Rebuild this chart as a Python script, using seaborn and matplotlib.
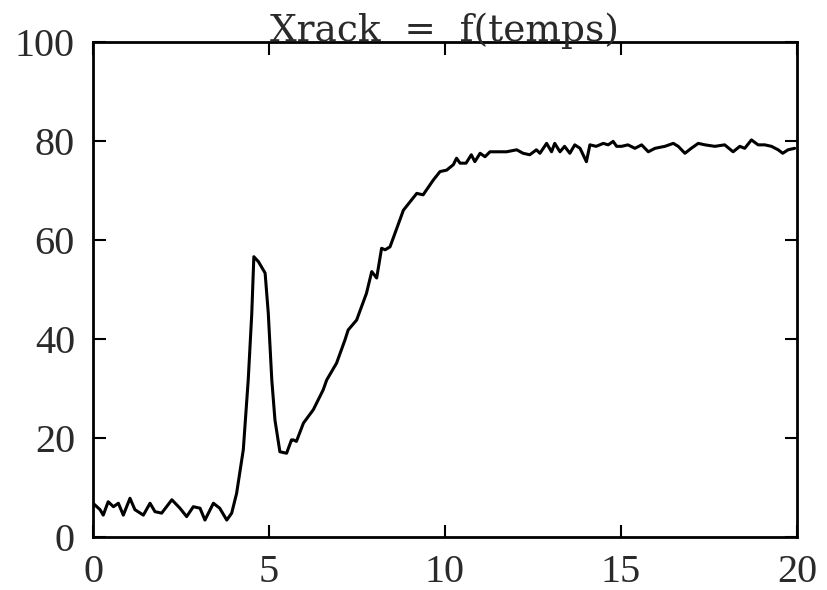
import matplotlib
matplotlib.use("Agg")
import pandas as pd
import seaborn as sns
import matplotlib.pyplot as plt

# values
temps = [0.0, 0.2, 0.29, 0.43, 0.58, 0.72, 0.86, 1.05, 1.19, 1.43, 1.62, 1.76, 1.95,
         2.24, 2.47, 2.66, 2.85, 3.04, 3.18, 3.42, 3.6, 3.8, 3.94, 4.08, 4.27, 4.41,
         4.51, 4.57, 4.7, 4.89, 4.98, 5.08, 5.17, 5.31, 5.5, 5.64, 5.69, 5.78, 5.98,
         6.26, 6.54, 6.64, 6.92, 7.16, 7.25, 7.49, 7.77, 7.92, 8.06, 8.2, 8.3, 8.44,
         8.82, 9.2, 9.38, 9.67, 9.86, 10.05, 10.24, 10.33, 10.43, 10.6, 10.75, 10.85,
         11.0, 11.14, 11.28, 11.47, 11.75, 12.04, 12.22, 12.41, 12.6, 12.7, 12.89,
         13.03, 13.12, 13.27, 13.4, 13.55, 13.69, 13.84, 14.02, 14.12, 14.3, 14.5,
         14.64, 14.78, 14.88, 15.02, 15.2, 15.4, 15.59, 15.78, 15.97, 16.25, 16.49,
         16.63, 16.82, 17.0, 17.2, 17.39, 17.67, 17.95, 18.19, 18.38, 18.52, 18.71,
         18.9, 19.09, 19.28, 19.47, 19.6, 19.75, 19.94]
xrack = [6.8, 5.5, 4.4, 7.1, 6.1, 6.8, 4.4, 7.8, 5.5, 4.4, 6.8, 5.1, 4.8,
         7.5, 5.8, 4.1, 6.1, 5.8, 3.4, 6.8, 5.8, 3.4, 4.8, 8.8, 17.6, 31.7,
         45.0, 56.6, 55.6, 53.3, 45.2, 31.7, 23.6, 17.2, 16.9, 19.6, 19.6, 19.3, 23.0,
         25.7, 29.7, 31.7, 35.1, 39.8, 41.8, 43.8, 49.2, 53.6, 52.3, 58.3, 58.0, 58.6,
         66.0, 69.4, 69.1, 72.1, 73.8, 74.1, 75.2, 76.5, 75.5, 75.5, 77.2, 75.8,
         77.5, 76.8, 77.8, 77.8, 77.8, 78.2, 77.5, 77.2, 78.2, 77.5, 79.5,
         77.8, 79.5, 77.8, 78.9, 77.5, 79.2, 78.5, 75.8, 79.2, 78.9, 79.5,
         79.2, 79.9, 78.9, 78.9, 79.2, 78.5, 79.2, 77.8, 78.5, 78.9, 79.5,
         78.9, 77.5, 78.5, 79.5, 79.2, 78.9, 79.2, 77.8, 78.9, 78.5, 80.2,
         79.2, 79.2, 78.9, 78.2, 77.5, 78.2, 78.5]
x_ticks = [0, 5, 10, 15, 20]
y_ticks = [0, 20, 40, 60, 80, 100]

df = pd.DataFrame({"temps": temps, "Xrack": xrack})

sns.set_style("ticks")
plt.rcParams['font.family'] = ['Liberation Serif', 'DejaVu Serif']

fig = plt.figure(figsize=(8.27, 5.9), dpi=100)
ax = fig.add_axes([0.1125, 0.09, 0.851, 0.839])
sns.lineplot(data=df, x="temps", y="Xrack", color="black", linewidth=2.2, ax=ax)

ax.set_xlim(0, 20)
ax.set_ylim(0, 100)
ax.set_xticks(x_ticks)
ax.set_yticks(y_ticks)
ax.set_xlabel("")
ax.set_ylabel("")
ax.tick_params(direction="in", length=9, width=1.5, top=True, right=True,
               labelsize=29, colors="black", labelcolor="#2a2a2a")
ax.tick_params(axis="x", pad=12)
ax.tick_params(axis="y", pad=13)
for s in ax.spines.values():
    s.set_linewidth(2)
    s.set_color("black")
ax.set_title("Xrack  =  f(temps)", fontsize=27, pad=1, color="#2a2a2a",
             family=["DejaVu Serif"])

plt.savefig("out.png", dpi=100)
